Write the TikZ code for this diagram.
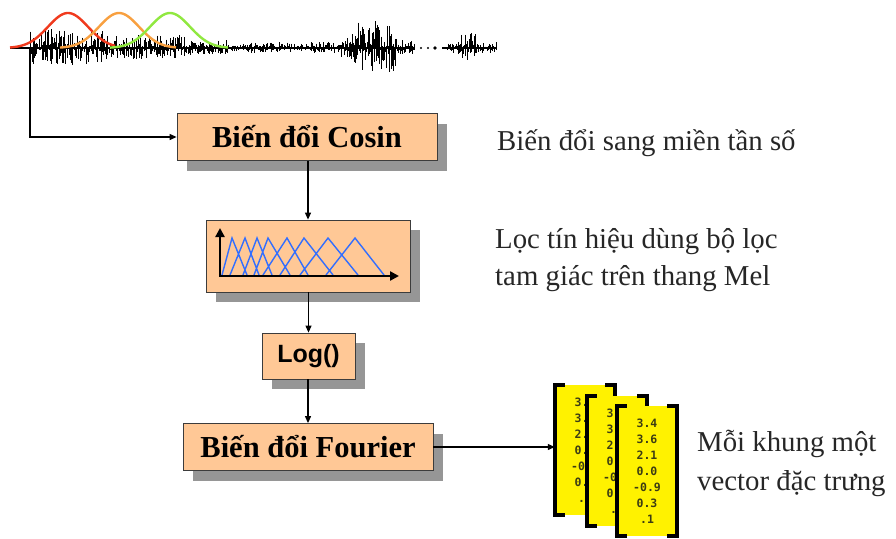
\documentclass[tikz,border=0pt]{standalone}
\usepackage{fontspec}
\setmainfont{Liberation Serif}
\newfontfamily\boxsans{Liberation Sans}
\newfontfamily\numfont{DejaVu Sans Mono}
\usetikzlibrary{arrows.meta,shadows}
\definecolor{peach}{RGB}{255,200,150}
\definecolor{shadowgray}{RGB}{150,150,150}
\definecolor{boxline}{RGB}{60,60,60}
\definecolor{gred}{RGB}{240,58,30}
\definecolor{gorange}{RGB}{248,160,64}
\definecolor{ggreen}{RGB}{144,232,64}
\definecolor{triblue}{RGB}{50,110,255}
\definecolor{numcol}{RGB}{60,60,20}
\begin{document}
\begin{tikzpicture}[x=1pt,y=-1pt,
  procbox/.style={draw=boxline, line width=0.8pt, fill=peach, inner sep=0pt,
    drop shadow={shadow xshift=10pt, shadow yshift=-10pt, fill=shadowgray, opacity=1}},
  boxtext/.style={font=\bfseries\fontsize{30.5}{36}\selectfont},
  desc/.style={font=\fontsize{28.8}{34}\selectfont, text=black!85, inner sep=0pt, anchor=base west},
  arr/.style={-{Triangle[length=7pt,width=6pt]}, line width=1.1pt},
  vecbox/.style={fill=yellow, minimum width=60pt, minimum height=130pt, inner sep=0pt},
  brk/.style={line width=4pt, line join=miter},
  nums/.style={align=center, font=\numfont\bfseries\fontsize{11.5}{16}\selectfont, text=numcol},
  tri/.style={triblue, line width=1.4pt}]
\useasboundingbox (0,0) rectangle (896,538);

% ---------- waveform ----------
\pgfmathsetseed{7}
\foreach \x in {30,31,...,414, 446,447,...,496} {
  \pgfmathsetmacro{\amp}{(\x<110)*20 + (\x>=110)*(\x<185)*13 + (\x>=185)*(\x<240)*8
     + (\x>=240)*(\x<340)*6 + (\x>=340)*(\x<352)*13 + (\x>=352)*(\x<398)*28
     + (\x>=398)*(\x<420)*8 + (\x>=440)*(\x<458)*6 + (\x>=458)*(\x<476)*15 + (\x>=476)*6}
  \pgfmathsetmacro{\up}{\amp*rnd^1.5}
  \pgfmathsetmacro{\dn}{\amp*0.85*rnd^1.5}
  \draw[line width=0.9pt] (\x,48-\up) -- (\x,48+\dn);
}
\draw[line width=2.2pt] (10,48) -- (415,48);
\draw[line width=2.2pt] (442,48) -- (497,48);
\fill (421,48) circle (1.2pt);
\fill (428,48) circle (1.2pt);
\fill (435,48) circle (1.8pt);

\draw[gred, line width=2.4pt] plot[domain=10:115, samples=60] (\x,{48-35*exp(-((\x-68)/20)^2/2)});
\draw[gorange, line width=2.4pt] plot[domain=60:176, samples=60] (\x,{48-35*exp(-((\x-119)/20)^2/2)});
\draw[ggreen, line width=2.4pt] plot[domain=110:228, samples=60] (\x,{48-35*exp(-((\x-170)/20)^2/2)});

\coordinate (wav) at (30,48);

% ---------- boxes ----------
\node[procbox, minimum width=260pt, minimum height=47pt] (cosin) at (307,137) {};
\node[boxtext] (cosintxt) at (cosin.center) {Biến đổi Cosin};

\node[procbox, minimum width=204pt, minimum height=72pt] (filter) at (308,256) {};
\draw[tri] \foreach \a/\b/\c in {222/232/247, 230/245/259, 243/257/272, 254/268/290,
   263/287/308, 280/304/333, 300/328/358, 326/355/384} { (\a,275) -- (\b,238) -- (\c,275) };
\draw[-{Triangle[length=9pt,width=9pt]}, line width=2.4pt] (220,276) -- (220,228);
\draw[-{Triangle[length=9pt,width=9pt]}, line width=2.4pt] (219,276) -- (399,276);

\node[procbox, minimum width=93pt, minimum height=46pt] (logb) at (308.5,356) {};
\node[font=\boxsans\bfseries\fontsize{25}{30}\selectfont] (logtxt) at (logb.center) {Log()};

\node[procbox, minimum width=250pt, minimum height=47pt] (fourier) at (308,447) {};
\node[boxtext] (fouriertxt) at (fourier.center) {Biến đổi Fourier};

% ---------- connectors ----------
\draw[arr] (wav) |- (cosin.west);
\draw[arr] (cosin.south -| filter.north) -- (filter.north);
\draw[arr] (filter.south -| logb.north) -- (logb.north);
\draw[arr] (logb.south -| fourier.north) -- (fourier.north);

% ---------- vectors ----------
\node[vecbox] (v1) at (585,450) {};
\node[nums] (n1) at (v1.center) {3.4\\3.6\\2.1\\0.0\\-0.9\\0.3\\.1};
\draw[brk] ([xshift=10pt]v1.north west) -- (v1.north west) -- (v1.south west) -- ([xshift=10pt]v1.south west);
\draw[brk] ([xshift=-10pt]v1.north east) -- (v1.north east) -- (v1.south east) -- ([xshift=-10pt]v1.south east);

\node[vecbox] (v2) at (617,461) {};
\node[nums] (n2) at (v2.center) {3.4\\3.6\\2.1\\0.0\\-0.9\\0.3\\.1};
\draw[brk] ([xshift=10pt]v2.north west) -- (v2.north west) -- (v2.south west) -- ([xshift=10pt]v2.south west);
\draw[brk] ([xshift=-10pt]v2.north east) -- (v2.north east) -- (v2.south east) -- ([xshift=-10pt]v2.south east);

\node[vecbox] (v3) at (647,471) {};
\node[nums] (n3) at (v3.center) {3.4\\3.6\\2.1\\0.0\\-0.9\\0.3\\.1};
\draw[brk] ([xshift=10pt]v3.north west) -- (v3.north west) -- (v3.south west) -- ([xshift=10pt]v3.south west);
\draw[brk] ([xshift=-10pt]v3.north east) -- (v3.north east) -- (v3.south east) -- ([xshift=-10pt]v3.south east);

\draw[arr] (fourier.east) -- (fourier.east -| v1.west);

% ---------- descriptions ----------
\node[desc] (d1) at (497,150) {Biến đổi sang miền tần số};
\node[desc] (d2a) at (495,248) {Lọc tín hiệu dùng bộ lọc};
\node[desc] (d2b) at (495,285) {tam giác trên thang Mel};
\node[desc] (d3a) at (697,451) {Mỗi khung một};
\node[desc] (d3b) at (697,490) {vector đặc trưng};
\end{tikzpicture}
\end{document}
